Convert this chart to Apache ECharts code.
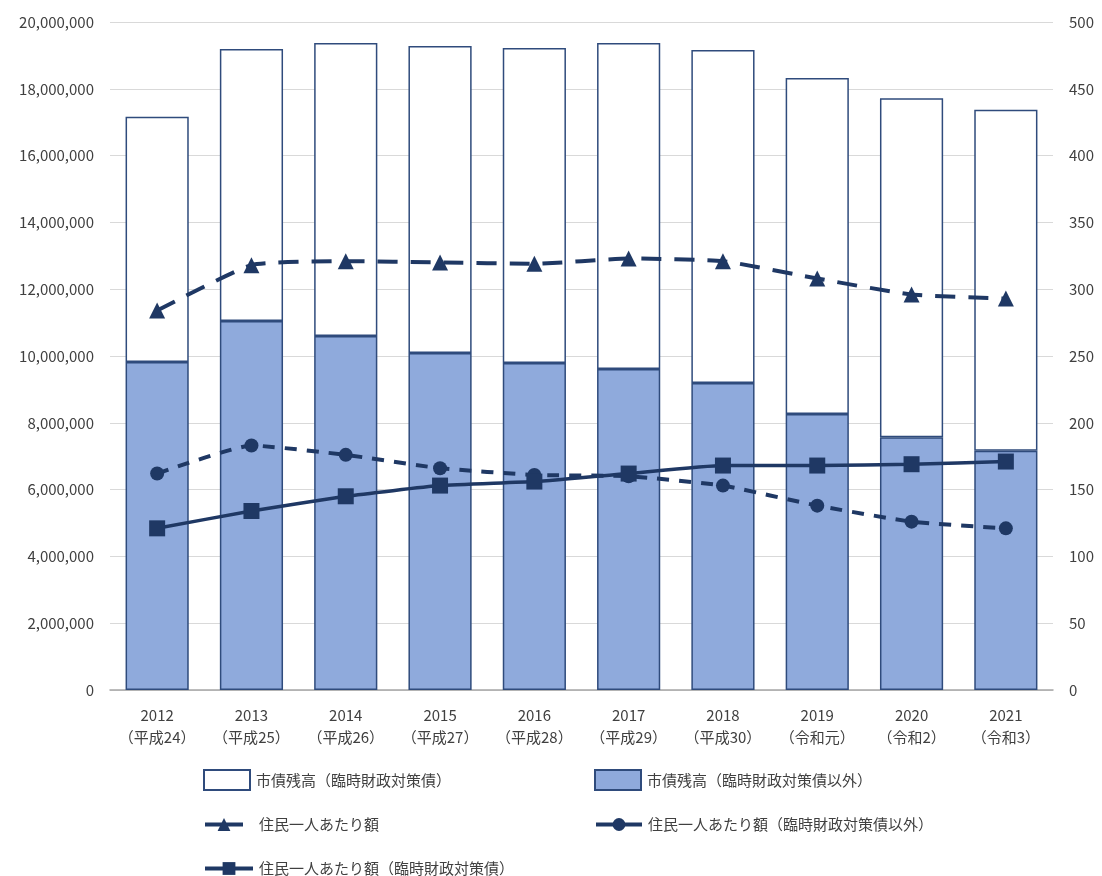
<!DOCTYPE html>
<html><head><meta charset="utf-8">
<script src="https://cdn.jsdelivr.net/npm/echarts@6/dist/echarts.min.js"></script>
<style>html,body{margin:0;padding:0;background:#fff}#c{width:1102px;height:876px}</style>
</head><body><div id="c"></div>
<script>
const categories = ['2012\n（平成24）','2013\n（平成25）','2014\n（平成26）','2015\n（平成27）','2016\n（平成28）','2017\n（平成29）','2018\n（平成30）','2019\n（令和元）','2020\n（令和2）','2021\n（令和3）'];
const debtOther = [9820000,11050000,10600000,10090000,9790000,9610000,9190000,8260000,7570000,7160000];
const debtTemp = [7340000,8140000,8770000,9190000,9430000,9760000,9970000,10060000,10150000,10210000];
const perCapita = [284,318,321,320,319,323,321,308,296,293];
const perCapitaOther = [162,183,176,166,161,160,153,138,126,121];
const perCapitaTemp = [121,134,145,153,156,162,168,168,169,171];
const names = ['市債残高（臨時財政対策債）','市債残高（臨時財政対策債以外）','住民一人あたり額','住民一人あたり額（臨時財政対策債以外）','住民一人あたり額（臨時財政対策債）'];

const navy = '#1f3864';
const font = '"Noto Sans CJK JP", sans-serif';
const txtColor = '#404040';
const txt = {color:txtColor, fontFamily:font, fontSize:15};
function legendText(padLeft){
  return {color:txtColor, fontFamily:font, fontSize:15, padding:[0,0,0,padLeft]};
}
const solidLine = {type:'solid', width:4, color:navy};
const chart = echarts.init(document.getElementById('c'));
chart.setOption({
  animation:false,
  textStyle:{fontFamily:font},
  grid:{left:110, right:49, top:22, bottom:186},
  legend:[
    {show:true,left:198,top:764,itemWidth:46,itemHeight:20,itemGap:0,selectedMode:false,icon:'rect',
     textStyle:legendText(1), data:[names[0]]},
    {show:true,left:589,top:764,itemWidth:46,itemHeight:20,itemGap:0,selectedMode:false,icon:'rect',
     textStyle:legendText(1), data:[names[1]]},
    {show:true,left:198,top:812,itemWidth:38,itemHeight:16,itemGap:0,selectedMode:false,
     lineStyle:solidLine, textStyle:legendText(11),
     data:[{name:names[2], lineStyle:solidLine}]},
    {show:true,left:589,top:812,itemWidth:46,itemHeight:16,itemGap:0,selectedMode:false,
     lineStyle:solidLine, textStyle:legendText(1),
     data:[{name:names[3], lineStyle:solidLine}]},
    {show:true,left:198,top:856,itemWidth:48,itemHeight:16,itemGap:0,selectedMode:false,
     lineStyle:solidLine, textStyle:legendText(1),
     data:[{name:names[4], lineStyle:solidLine}]}
  ],
  xAxis:{type:'category', data:categories,
    axisLine:{lineStyle:{color:'#a6a6a6', width:1.5}}, axisTick:{show:false},
    axisLabel:Object.assign({margin:14, lineHeight:22, interval:0}, txt)},
  yAxis:[
    {type:'value', min:0, max:20000000, interval:2000000,
     axisLabel:Object.assign({margin:16, formatter:v=>v.toLocaleString('en-US')}, txt),
     splitLine:{lineStyle:{color:'#d9d9d9', width:1.2}}, axisLine:{show:false}, axisTick:{show:false}},
    {type:'value', min:0, max:500, interval:50,
     axisLabel:Object.assign({margin:16}, txt),
     splitLine:{show:false}, axisLine:{show:false}, axisTick:{show:false}}
  ],
  series:[
    {name:names[1], type:'bar', stack:'d', data:debtOther, barWidth:'67%',
     itemStyle:{color:'#8faadc', borderColor:'#2f4b7c', borderWidth:1.5}},
    {name:names[0], type:'bar', stack:'d', data:debtTemp, barWidth:'67%',
     itemStyle:{color:'#ffffff', borderColor:'#2f4b7c', borderWidth:1.5}},
    {name:names[2], type:'line', yAxisIndex:1, data:perCapita, smooth:0.15,
     symbol:'triangle', symbolSize:16, z:5,
     lineStyle:{color:navy, width:4, type:[20,13]}, itemStyle:{color:navy}},
    {name:names[3], type:'line', yAxisIndex:1, data:perCapitaOther, smooth:0.15,
     symbol:'circle', symbolSize:14, z:5,
     lineStyle:{color:navy, width:4, type:[12,10]}, itemStyle:{color:navy}},
    {name:names[4], type:'line', yAxisIndex:1, data:perCapitaTemp, smooth:0.15,
     symbol:'rect', symbolSize:16, z:5,
     lineStyle:{color:navy, width:3.5}, itemStyle:{color:navy}}
  ]
});
</script></body></html>
